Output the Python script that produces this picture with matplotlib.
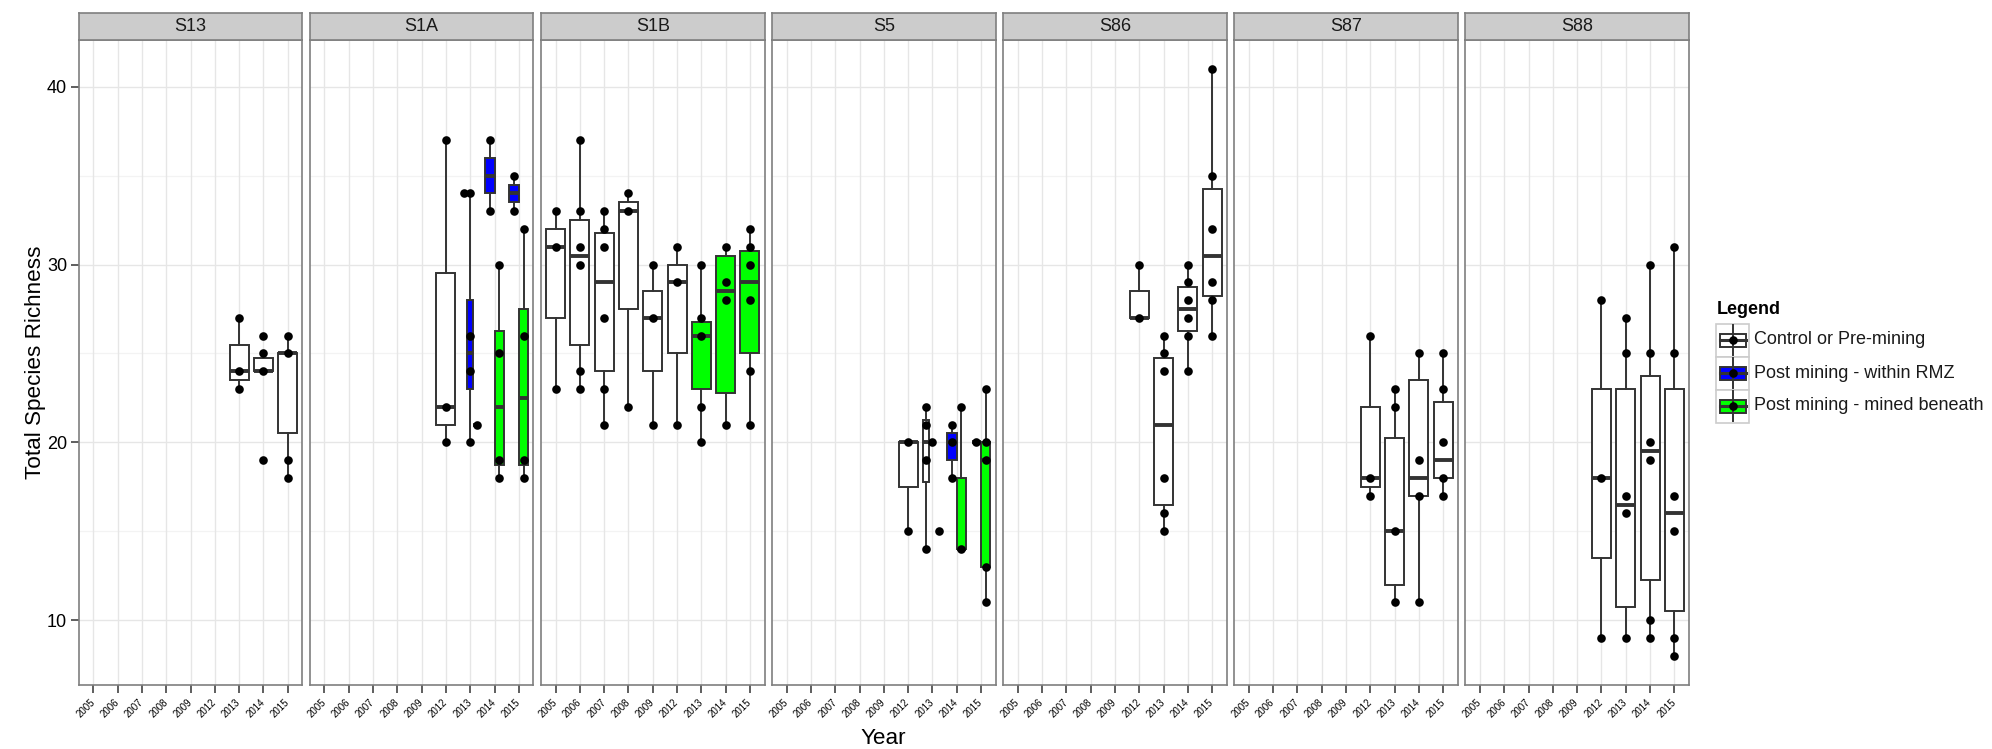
import matplotlib
matplotlib.use("Agg")
import matplotlib.pyplot as plt
from matplotlib.patches import Rectangle
from matplotlib.lines import Line2D

plt.rcParams['font.family'] = ['Liberation Sans', 'DejaVu Sans']

# ---------------- data ----------------
sites = ["S13", "S1A", "S1B", "S5", "S86", "S87", "S88"]
years = ["2005", "2006", "2007", "2008", "2009", "2012", "2013", "2014", "2015"]
treatments = ["Control or Pre-mining", "Post mining - within RMZ", "Post mining - mined beneath"]
treat_colors = ["#FFFFFF", "#0000FF", "#00FF00"]

# one entry per box group: site, year, treatment index, dodge slot, number of dodge slots
g_site = ["S13", "S13", "S13",
          "S1A", "S1A", "S1A", "S1A", "S1A", "S1A", "S1A", "S1A",
          "S1B", "S1B", "S1B", "S1B", "S1B", "S1B", "S1B", "S1B", "S1B",
          "S5", "S5", "S5", "S5", "S5", "S5", "S5", "S5",
          "S86", "S86", "S86", "S86",
          "S87", "S87", "S87", "S87",
          "S88", "S88", "S88", "S88"]
g_year = ["2013", "2014", "2015",
          "2012", "2013", "2013", "2013", "2014", "2014", "2015", "2015",
          "2005", "2006", "2007", "2008", "2009", "2012", "2013", "2014", "2015",
          "2012", "2013", "2013", "2013", "2014", "2014", "2015", "2015",
          "2012", "2013", "2014", "2015",
          "2012", "2013", "2014", "2015",
          "2012", "2013", "2014", "2015"]
g_treat = [0, 0, 0,
           0, 0, 1, 0, 1, 2, 1, 2,
           0, 0, 0, 0, 0, 0, 2, 2, 2,
           0, 0, 0, 0, 1, 2, 0, 2,
           0, 0, 0, 0,
           0, 0, 0, 0,
           0, 0, 0, 0]
g_slot = [0, 0, 0,
          0, 0, 1, 2, 0, 1, 0, 1,
          0, 0, 0, 0, 0, 0, 0, 0, 0,
          0, 0, 1, 2, 0, 1, 0, 1,
          0, 0, 0, 0,
          0, 0, 0, 0,
          0, 0, 0, 0]
g_nslot = [1, 1, 1,
           1, 3, 3, 3, 2, 2, 2, 2,
           1, 1, 1, 1, 1, 1, 1, 1, 1,
           1, 3, 3, 3, 2, 2, 2, 2,
           1, 1, 1, 1,
           1, 1, 1, 1,
           1, 1, 1, 1]
g_q1 = [23.5, 24, 20.5,
        21, 34, 23, 21, 34, 18.75, 33.5, 18.75,
        27, 25.5, 24, 27.5, 24, 25, 23, 22.75, 25,
        17.5, 17.75, 20, 15, 19, 14, 20, 13,
        27, 16.5, 26.25, 28.25,
        17.5, 12, 17, 18,
        13.5, 10.75, 12.25, 10.5]
g_med = [24, 24, 25,
         22, 34, 25, 21, 35, 22, 34, 22.5,
         31, 30.5, 29, 33, 27, 29, 26, 28.5, 29,
         20, 20, 20, 15, 20, 14, 20, 19,
         27, 21, 27.5, 30.5,
         18, 15, 18, 19,
         18, 16.5, 19.5, 16]
g_q3 = [25.5, 24.75, 25,
        29.5, 34, 28, 21, 36, 26.25, 34.5, 27.5,
        32, 32.5, 31.75, 33.5, 28.5, 30, 26.75, 30.5, 30.75,
        20, 21.25, 20, 15, 20.5, 18, 20, 20,
        28.5, 24.75, 28.75, 34.25,
        22, 20.25, 23.5, 22.25,
        23, 23, 23.75, 23]
g_lo = [23, 24, 18,
        20, 34, 20, 21, 33, 18, 33, 18,
        23, 23, 21, 22, 21, 21, 20, 21, 21,
        15, 14, 20, 15, 18, 14, 20, 11,
        27, 15, 24, 26,
        17, 11, 11, 17,
        9, 9, 9, 8]
g_hi = [27, 25, 26,
        37, 34, 34, 21, 37, 30, 35, 32,
        33, 37, 33, 34, 30, 31, 30, 31, 32,
        20, 22, 20, 15, 21, 22, 20, 23,
        30, 26, 30, 41,
        26, 23, 25, 25,
        28, 27, 30, 31]
g_points = [[27, 24, 23], [26, 25, 24, 19], [26, 25, 19, 18],
            [37, 22, 20], [34], [34, 26, 24, 20], [21], [37, 33], [30, 25, 19, 18], [35, 33], [32, 26, 19, 18],
            [33, 31, 23], [37, 33, 31, 30, 24, 23], [33, 32, 31, 27, 23, 21], [34, 33, 22], [30, 27, 21],
            [31, 29, 21], [30, 27, 26, 22, 20], [31, 29, 28, 21], [32, 31, 30, 28, 24, 21],
            [20, 15], [22, 21, 19, 14], [20], [15], [21, 20, 18], [22, 14], [20], [23, 20, 19, 13, 11],
            [30, 27], [26, 25, 24, 18, 16, 15], [30, 29, 28, 27, 26, 24], [41, 35, 32, 29, 28, 26],
            [26, 18, 17], [23, 22, 15, 11], [25, 19, 17, 11], [25, 23, 20, 18, 17],
            [28, 18, 9], [27, 25, 17, 16, 9], [30, 25, 20, 19, 10, 9], [31, 25, 17, 15, 9, 8]]

y_ticks = [10, 20, 30, 40]

# ---------------- layout / style ----------------
W, H = 1992, 749
fig = plt.figure(figsize=(W / 100, H / 100), dpi=100)
fig.patch.set_facecolor("white")

panel_left0 = 78.8
panel_w = 223.5
gap = 7.6
panel_top = 39.6
panel_bot = 685.0
strip_top = 12.7

edge_col = "#333333"
border_col = "#7F7F7F"
box_lw = 1.4
dodge_total = 0.78

for i, site in enumerate(sites):
    x0 = panel_left0 + i * (panel_w + gap)
    ax = fig.add_axes([x0 / W, 1 - panel_bot / H, panel_w / W, (panel_bot - panel_top) / H])
    ax.set_xlim(0.4, len(years) + 0.6)
    ax.set_ylim(6.35, 42.65)
    ax.set_facecolor("white")
    # grid
    for yv in [15, 25, 35]:
        ax.axhline(yv, color="#F3F3F3", lw=0.9, zorder=0)
    for yv in y_ticks:
        ax.axhline(yv, color="#E6E6E6", lw=1.0, zorder=0)
    for k in range(len(years)):
        ax.axvline(k + 1, color="#E6E6E6", lw=1.0, zorder=0)

    for j in range(len(g_site)):
        if g_site[j] != site:
            continue
        xc = years.index(g_year[j]) + 1
        n = g_nslot[j]
        w = dodge_total / n
        pos = xc + (g_slot[j] - (n - 1) / 2.0) * w
        stats = [dict(med=g_med[j], q1=g_q1[j], q3=g_q3[j],
                      whislo=g_lo[j], whishi=g_hi[j], fliers=[])]
        ax.bxp(stats, positions=[pos], widths=[w], patch_artist=True,
               showfliers=False, showcaps=False, manage_ticks=False,
               boxprops=dict(facecolor=treat_colors[g_treat[j]], edgecolor=edge_col, linewidth=box_lw),
               medianprops=dict(color=edge_col, linewidth=2.8, solid_capstyle="butt"),
               whiskerprops=dict(color=edge_col, linewidth=box_lw),
               zorder=2)
        pts = g_points[j]
        ax.plot([pos] * len(pts), pts, "o", color="black", markersize=6.2,
                markeredgewidth=0, zorder=5)

    for sp in ax.spines.values():
        sp.set_color(border_col)
        sp.set_linewidth(1.2)
        sp.set_zorder(6)
    ax.set_xticks(range(1, len(years) + 1))
    ax.set_xticklabels(years, rotation=45, ha="right", va="center",
                       rotation_mode="anchor", fontsize=7)
    ax.tick_params(axis="x", length=5.5, width=1.1, color="#333333", pad=6)
    ax.set_yticks(y_ticks)
    if i == 0:
        ax.set_yticklabels([str(v) for v in y_ticks], fontsize=13)
        ax.tick_params(axis="y", length=5.5, width=1.1, color="#333333", pad=3)
    else:
        ax.tick_params(axis="y", left=False, labelleft=False)

    # strip
    sax = fig.add_axes([x0 / W, 1 - panel_top / H, panel_w / W, (panel_top - strip_top) / H])
    sax.set_facecolor("#CCCCCC")
    sax.set_xticks([])
    sax.set_yticks([])
    for sp in sax.spines.values():
        sp.set_color(border_col)
        sp.set_linewidth(1.2)
    sax.text(0.5, 0.47, site, ha="center", va="center", fontsize=13,
             color="#1A1A1A", transform=sax.transAxes)

# axis titles
fig.text(36 / W, 1 - 362 / H, "Total Species Richness", rotation=90,
         ha="center", va="center", fontsize=16.2)
fig.text(883.6 / W, 1 - 738 / H, "Year", ha="center", va="center", fontsize=16.2)

# legend (drawn in pixel space overlay)
lax = fig.add_axes([0, 0, 1, 1])
lax.set_xlim(0, W)
lax.set_ylim(H, 0)
lax.axis("off")
lax.text(1717, 309, "Legend", fontsize=13, fontweight="bold", ha="left", va="center")
key_x0, key_size = 1716, 33
row_tops = [323.5, 356.5, 389.5]
for r, (lab, col) in enumerate(zip(treatments, treat_colors)):
    top = row_tops[r]
    cy = top + key_size / 2
    cx = key_x0 + key_size / 2
    lax.add_patch(Rectangle((key_x0, top), key_size, key_size, facecolor="white",
                            edgecolor="#CCCCCC", linewidth=1.2))
    lax.add_line(Line2D([cx, cx], [top + 1.5, top + key_size - 1.5], color=edge_col, lw=box_lw))
    lax.add_patch(Rectangle((key_x0 + 3.5, cy - 6.5), key_size - 7, 13, facecolor=col,
                            edgecolor=edge_col, linewidth=box_lw))
    lax.add_line(Line2D([key_x0 + 3.5, key_x0 + key_size - 3.5], [cy, cy], color=edge_col, lw=2.2))
    lax.plot([cx], [cy], "o", color="black", markersize=6.2, markeredgewidth=0)
    lax.text(1754, cy, lab, fontsize=13, ha="left", va="center", color="#1A1A1A")

fig.savefig("out.png", dpi=100, facecolor="white")
